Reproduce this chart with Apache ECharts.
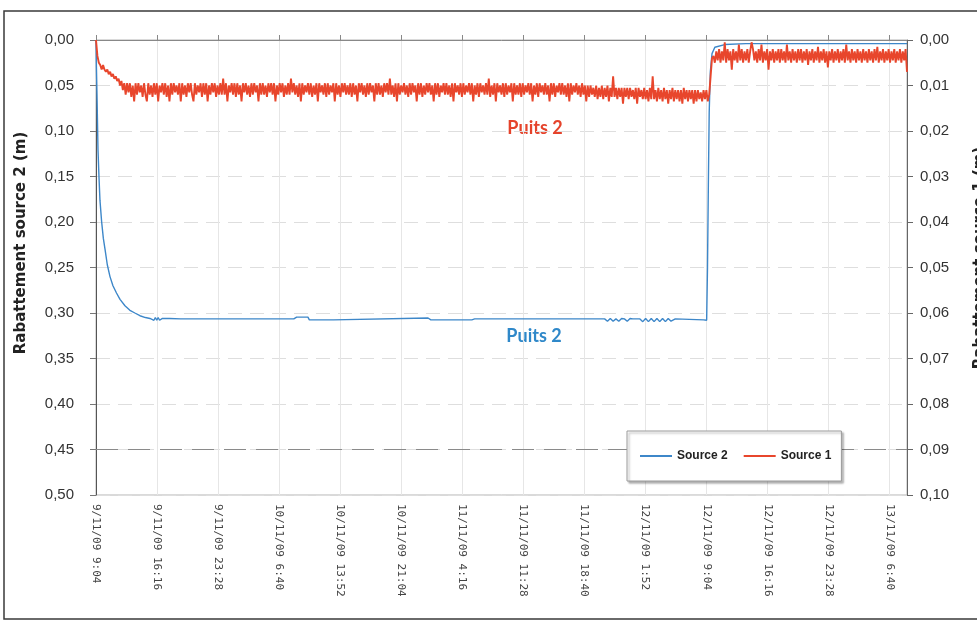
<!DOCTYPE html>
<html><head><meta charset="utf-8">
<script src="https://cdn.jsdelivr.net/npm/echarts@6/dist/echarts.min.js"></script>
<style>html,body{margin:0;padding:0;background:#fff}#c{width:977px;height:624px}</style>
</head><body><div id="c"></div>
<script>
// X axis: minutes since 9/11/09 9:04, ticks every 7h12m (432 min)
const xTickLabels = ['9/11/09 9:04','9/11/09 16:16','9/11/09 23:28','10/11/09 6:40','10/11/09 13:52','10/11/09 21:04','11/11/09 4:16','11/11/09 11:28','11/11/09 18:40','12/11/09 1:52','12/11/09 9:04','12/11/09 16:16','12/11/09 23:28','13/11/09 6:40'];
const xTickStepMin = 432;
const xMaxMin = 5740;

// Source 2 (left axis, m): time (min) / drawdown
const blueT = [0,3,7,14,21,28,40,52,64,80,
  99,120,145,170,205,240,275,311,350,382,
  410,420,430,440,450,470,520,600,900,1400,
  1420,1500,1510,1680,1690,2350,2370,2660,2680,3000,
  3600,3620,3640,3660,3680,3700,3720,3740,3760,3780,
  3800,3850,3870,3890,3910,3930,3950,3970,3990,4010,
  4030,4050,4070,4100,4300,4322,4328,4334,4340,4348,
  4360,4380,4450,4600,5740];
const blueV = [0,0.03,0.06,0.12,0.15,0.176,0.2,0.218,0.23,0.247,
  0.26,0.27,0.278,0.285,0.292,0.297,0.3,0.303,0.305,0.306,
  0.308,0.305,0.308,0.305,0.308,0.306,0.306,0.3065,0.3065,0.3065,
  0.3045,0.3045,0.3075,0.3075,0.3055,0.3055,0.3075,0.3075,0.3065,0.3065,
  0.3065,0.309,0.306,0.309,0.3065,0.309,0.306,0.3065,0.309,0.306,
  0.3065,0.3065,0.3095,0.306,0.3095,0.306,0.3095,0.306,0.3095,0.306,
  0.3095,0.306,0.309,0.3065,0.3075,0.308,0.25,0.16,0.08,0.035,
  0.015,0.008,0.005,0.004,0.004];

// Source 1 (right axis): drawdown in mm, one reading every 10 min from 9/11/09 9:04
const redStepMin = 10;
const redMM = [
  0,3.5,5,5.5,6.5,5.5,6.5,7,6.5,7.5,7,8,7.5,8.5,8,9,8.5,10,9,11,
  9.5,12,9.5,11.5,9.5,12.5,10,13.5,9.5,12,9.5,11.5,10,12.5,9.5,12,13.5,9.5,12,10,
  12.5,9.5,12,9.5,13.5,10,11.5,9.5,12,9.5,12.5,10,13.5,9.5,12,9.5,11.5,10,12,9.5,
  13.5,9.5,12,10,12.5,9.5,11.5,9.5,12,13.5,9.5,12,10,11.5,9.5,12.5,9.5,12,9.5,13.5,
  10,12,9.5,11.5,9.5,12.5,10,12,9.5,12,8.5,12,9.5,13.5,10,11.5,9.5,12,9.5,12.5,
  9.5,12,10,13.5,9.5,11.5,9.5,12,10,12.5,9.5,12,9.5,11.5,10,13.5,9.5,12,9.5,12,
  10,12.5,9.5,11.5,9.5,12,9.5,13.5,10,12,9.5,11.5,9.5,12.5,10,12,9.5,12,8.5,11.5,
  9.5,12,10,12.5,9.5,13.5,9.5,12,10,11.5,9.5,12,9.5,12.5,10,12,9.5,13.5,9.5,11.5,
  10,12,9.5,12.5,9.5,12,10,11.5,9.5,13.5,9.5,12,10,12.5,9.5,11.5,9.5,12,10,12,
  9.5,12.5,9.5,12,10,13.5,9.5,11.5,9.5,12,10,12.5,9.5,12,9.5,11.5,10,13.5,9.5,12,
  9.5,12,10,12.5,9.5,11.5,9.5,12,8.5,12,10,12.5,9.5,13.5,9.5,12,10,11.5,9.5,12,
  10,12.5,9.5,12,9.5,11.5,10,13.5,9.5,12,9.5,12.5,10,12,9.5,11.5,9.5,12,10,13.5,
  9.5,12,9.5,12.5,10,11.5,9.5,12,9.5,12,10,12.5,9.5,13.5,9.5,11.5,10,12,9.5,12.5,
  9.5,12,10,11.5,9.5,12,9.5,13.5,10,12,9.5,12.5,9.5,11.5,10,12,9.5,12,8.5,12.5,
  10,12,9.5,13.5,9.5,11.5,10,12,9.5,12.5,9.5,12,10,11.5,9.5,13.5,9.5,12,10,12,
  9.5,12.5,9.5,12,10,11.5,9.5,12,9.5,13.5,10,12,9.5,12.5,9.5,11.5,10,12,9.5,12,
  10,13.5,9.5,12,9.5,12.5,10,11.5,9.5,12,9.5,12,10,12.5,9.5,13.5,9.5,12,10,11.5,
  9.5,12,10,12.5,9.5,12,10,13.5,10,12.5,10,12,10.5,12.5,10,13,10.5,12.5,10,13,
  10.5,12.5,10,13.5,10.5,12.5,8,12.5,10.5,13,10.5,12.5,10.5,14,10.5,12.5,10.5,13,10.5,12.5,
  11,13,10.5,14,10.5,12.5,11,13,10.5,13,11,13.5,10.5,13,8,13,11,13.5,10.5,13,
  11,13.5,10.5,13,11,14,11,13,10.5,13.5,11,13,11,13.5,11,14,10.5,13,11,13.5,
  11,13,11,14,11,13.5,11,13,11.5,13.5,11,13,11,13.5,12,8,4,3.5,5,2.5,
  4.5,2,5,2.5,4.5,0.5,5,2,4.5,2.5,6.5,2,4.5,2.5,5,1,4.5,2,5,2.5,
  4.5,2,5,2.5,0.5,2,4.5,2.5,5,2,4.5,1,5,2.5,4.5,2,6.5,2.5,4.5,2,
  5,2.5,4.5,2,5,2,4.5,2.5,5,1,4.5,2.5,5,2,4.5,2.5,5,2,4.5,2,
  5,2.5,4.5,2,5.5,2.5,4.5,2,5,2.5,4.5,1.5,5,2.5,4.5,2,5,2.5,6,2.5,
  4.5,2,5,2.5,4.5,2,5,2.5,4.5,2,5,1,4.5,2.5,5,2,4.5,2.5,5,2,
  4.5,2.5,5,2,4.5,2.5,5,2,4.5,2.5,5,2,4.5,1.5,5,2.5,4.5,2,5,2.5,
  4.5,2,5,2.5,4.5,2,5,2.5,4.5,2,5,2.5,4.5,2,7
];

const seriesNames = ['Source 2','Source 1'];
const leftAxisName = 'Rabattement source 2 (m)';
const rightAxisName = 'Rabattement source 1 (m)';
const annotation = 'Puits 2';

const blueData = blueT.map((t, i) => [t, blueV[i]]);
const redData = redMM.map((v, i) => [i * redStepMin, v / 1000]);

const narrow = "'Liberation Sans Narrow','Liberation Sans',Arial,sans-serif";
const fmtComma = v => (Math.round(v * 1000) / 1000).toFixed(2).replace('.', ',');

const chart = echarts.init(document.getElementById('c'), null, {renderer: 'canvas'});
chart.setOption({
  animation: false,
  backgroundColor: '#fff',
  grid: {left: 96, right: 70, top: 40, bottom: 129, show: true, borderColor: '#b4b4b4', borderWidth: 1},
  legend: {
    data: seriesNames,
    left: 627, top: 431, z: 20,
    padding: [19, 10, 19, 13],
    itemGap: 16, itemWidth: 32, itemHeight: 2, icon: 'rect',
    borderColor: '#9a9a9a', borderWidth: 1, backgroundColor: '#fff',
    shadowColor: 'rgba(0,0,0,0.3)', shadowOffsetX: 2, shadowOffsetY: 2, shadowBlur: 2,
    textStyle: {fontFamily: narrow, fontWeight: 'bold', fontSize: 12, color: '#222'}
  },
  xAxis: {
    type: 'value', min: 0, max: xMaxMin, interval: xTickStepMin,
    axisLine: {show: true, lineStyle: {color: '#888'}},
    axisTick: {show: true, inside: true, length: 5, lineStyle: {color: '#888'}},
    axisLabel: {
      rotate: -90, margin: 9, fontFamily: "'DejaVu Sans Mono',monospace", fontSize: 11, color: '#444',
      showMaxLabel: false,
      formatter: v => {
        const i = Math.round(v / xTickStepMin);
        return (Math.abs(v - i * xTickStepMin) < 1 && i < xTickLabels.length) ? xTickLabels[i] : '';
      }
    },
    splitLine: {show: true, lineStyle: {color: '#e6e6e6'}}
  },
  yAxis: [{
    type: 'value', position: 'left', inverse: true, min: 0, max: 0.5, interval: 0.05,
    axisLine: {show: true, lineStyle: {color: '#555'}},
    axisTick: {show: true, length: 6, lineStyle: {color: '#777'}},
    axisLabel: {margin: 22, fontFamily: narrow, fontSize: 15, color: '#333', formatter: fmtComma},
    splitLine: {show: true, lineStyle: {color: '#dedede', type: [14, 8]}}
  }, {
    type: 'value', position: 'right', inverse: true, min: 0, max: 0.1, interval: 0.01,
    axisLine: {show: true, lineStyle: {color: '#666'}},
    axisTick: {show: true, length: 6, lineStyle: {color: '#666'}},
    axisLabel: {margin: 13, fontFamily: narrow, fontSize: 15, color: '#333', formatter: fmtComma},
    splitLine: {show: false}
  }],
  series: [{
    name: seriesNames[0], type: 'line', yAxisIndex: 0, data: blueData, z: 2,
    showSymbol: false, symbol: 'none', color: '#3d87c9',
    lineStyle: {color: '#3d87c9', width: 1.4},
    markLine: {
      silent: true, symbol: 'none', label: {show: false}, z: 1,
      lineStyle: {color: '#8a8a8a', type: [22, 10], width: 1},
      data: [{yAxis: 0.45}]
    }
  }, {
    name: seriesNames[1], type: 'line', yAxisIndex: 1, data: redData, z: 3,
    showSymbol: false, symbol: 'none', color: '#e8462c',
    lineStyle: {color: '#e8462c', width: 1.9}
  }],
  graphic: [
    {type: 'rect', silent: true, z: 0, shape: {x: 4, y: 11, width: 1000, height: 608},
     style: {fill: 'none', stroke: '#3a3a3a', lineWidth: 1.5}},
    {type: 'text', x: 21, y: 243, rotation: Math.PI / 2, silent: true,
     style: {text: leftAxisName, font: "bold 15px 'DejaVu Sans'", fill: '#222', align: 'center', verticalAlign: 'middle', textAlign: 'center', textVerticalAlign: 'middle'}},
    {type: 'text', x: 980, y: 258, rotation: Math.PI / 2, silent: true,
     style: {text: rightAxisName, font: "bold 15px 'DejaVu Sans'", fill: '#222', align: 'center', verticalAlign: 'middle', textAlign: 'center', textVerticalAlign: 'middle'}},
    {type: 'text', x: 535, y: 128, silent: true,
     style: {text: annotation, font: "bold 18px Lato", fill: '#e5432b', align: 'center', verticalAlign: 'middle', textAlign: 'center', textVerticalAlign: 'middle'}},
    {type: 'text', x: 534, y: 336, silent: true,
     style: {text: annotation, font: "bold 18px Lato", fill: '#2f88c9', align: 'center', verticalAlign: 'middle', textAlign: 'center', textVerticalAlign: 'middle'}}
  ]
});
</script>
</body></html>
